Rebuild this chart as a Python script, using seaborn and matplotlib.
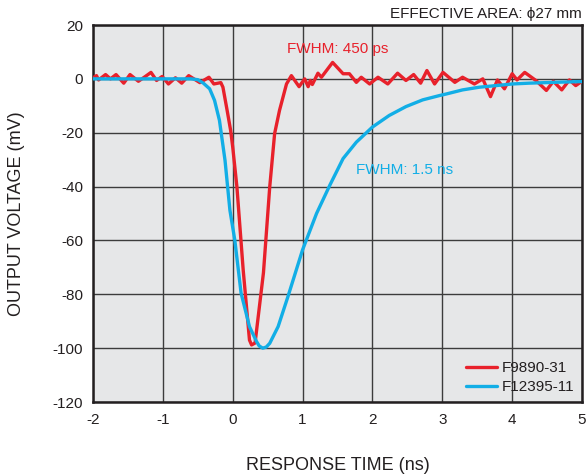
import matplotlib
matplotlib.use("Agg")
import matplotlib.pyplot as plt
import seaborn as sns
import pandas as pd

# ---- data ----
red_name = "F9890-31"
red_t = [-2.0, -1.95, -1.92, -1.82, -1.75, -1.67, -1.56, -1.47, -1.35, -1.25, -1.17, -1.09,
         -1.01, -0.92, -0.82, -0.73, -0.63, -0.47, -0.34, -0.27, -0.17, -0.14, -0.08, -0.03,
         0.0, 0.06, 0.15, 0.24, 0.27, 0.32, 0.44, 0.53, 0.6, 0.67, 0.77, 0.84, 0.95, 1.03,
         1.08, 1.11, 1.14, 1.22, 1.27, 1.43, 1.58, 1.67, 1.77, 1.84, 1.96, 2.08, 2.22, 2.36,
         2.48, 2.59, 2.69, 2.78, 2.89, 3.01, 3.18, 3.29, 3.46, 3.58, 3.69, 3.79, 3.89, 4.0,
         4.07, 4.18, 4.34, 4.49, 4.59, 4.71, 4.82, 4.91, 5.0]
red_v = [0.4, 1.2, -0.4, 1.6, 0.0, 1.6, -1.6, 1.6, -0.9, 0.9, 2.4, -0.6,
         0.9, -1.9, 0.4, -1.6, 1.2, -1.4, 0.6, -1.9, -1.4, -3.1, -11.7, -19.1,
         -25.3, -40.1, -71.0, -97.0, -98.8, -98.1, -72.0, -40.1, -20.3, -11.7, -1.9, 1.2, -2.9, 0.0,
         -2.9, -0.6, -2.1, 2.1, 0.6, 6.1, 1.9, 1.9, -1.3, 0.6, -1.9, 0.6, -1.9, 2.1,
         -0.6, 1.6, -1.6, 3.1, -1.9, 2.4, -1.3, 0.6, -1.9, 0.0, -6.6, -0.4, -3.7, 1.9,
         -0.4, 2.4, -0.6, -4.3, -0.9, -4.1, -0.4, -2.5, -0.9]

blue_name = "F12395-11"
blue_t = [-2.0, -0.6, -0.5, -0.42, -0.33, -0.26, -0.19, -0.11, -0.04, 0.03, 0.12, 0.24,
          0.34, 0.38, 0.43, 0.48, 0.53, 0.65, 0.79, 1.0, 1.2, 1.39, 1.58, 1.77, 2.0,
          2.24, 2.48, 2.72, 2.96, 3.06, 3.29, 3.53, 3.77, 4.0, 4.24, 4.48, 4.72, 5.0]
blue_v = [0.0, 0.0, -0.3, -1.6, -3.7, -8.0, -15.4, -30.3, -48.8, -59.9, -79.6, -92.0,
          -97.5, -99.2, -100.0, -99.6, -98.2, -92.0, -80.9, -63.5, -50.0, -39.5, -29.6, -23.5, -17.9,
          -13.6, -10.3, -7.8, -6.2, -5.6, -4.1, -3.1, -2.5, -1.9, -1.6, -1.4, -1.2, -1.0]

x_ticks = [-2, -1, 0, 1, 2, 3, 4, 5]
y_ticks = [20, 0, -20, -40, -60, -80, -100, -120]

RED = "#e8212b"
BLUE = "#12aee6"

df = pd.concat([
    pd.DataFrame({"t": red_t, "v": red_v, "series": red_name}),
    pd.DataFrame({"t": blue_t, "v": blue_v, "series": blue_name}),
], ignore_index=True)

sns.set_theme(style="white")
plt.rcParams["font.family"] = ["Liberation Sans", "DejaVu Sans"]

fig = plt.figure(figsize=(5.87, 4.75), dpi=100, facecolor="white")
ax = fig.add_axes([93 / 587, 1 - 402 / 475, 489 / 587, 377 / 475])
ax.set_facecolor("#e6e7e8")

sns.lineplot(data=df, x="t", y="v", hue="series", palette={red_name: RED, blue_name: BLUE},
             hue_order=[red_name, blue_name], estimator=None, sort=False,
             linewidth=2.4, ax=ax, zorder=3)

ax.set_xlim(-2, 5)
ax.set_ylim(-120, 20)
ax.set_xticks(x_ticks)
ax.set_yticks(y_ticks)
ax.set_xticklabels([str(v) for v in x_ticks])
ax.set_yticklabels([str(v) for v in y_ticks])
ax.grid(True, color="#3c3c3c", linewidth=1.0, zorder=1)
ax.set_axisbelow(True)
for s in ax.spines.values():
    s.set_color("#231f20")
    s.set_linewidth(1.8)
ax.tick_params(axis="both", labelsize=11, colors="#231f20", length=4, width=1,
               direction="inout")
ax.tick_params(axis="x", pad=6)
ax.tick_params(axis="y", pad=5)

ax.set_xlabel("RESPONSE TIME (ns)", fontsize=13, color="#231f20")
ax.set_ylabel("OUTPUT VOLTAGE (mV)", fontsize=13, color="#231f20")
ax.xaxis.set_label_coords(0.5, (402 - 465) / 377)
ax.xaxis.label.set_va("center")
ax.yaxis.set_label_coords((17 - 93) / 489, 0.5)
ax.yaxis.label.set_va("center")

ax.text(0.776, 11.2, "FWHM: 450 ps", color=RED, fontsize=11, ha="left", va="center", zorder=4)
ax.text(1.77, -33.7, "FWHM: 1.5 ns", color=BLUE, fontsize=11, ha="left", va="center", zorder=4)

fig.text(582 / 587, 1 - 14 / 475, "EFFECTIVE AREA: \u03d527 mm", fontsize=11,
         color="#231f20", ha="right", va="center")

leg = ax.legend(loc="lower right", bbox_to_anchor=(0.99, 0.012), frameon=False,
                fontsize=11, handlelength=2.0, handletextpad=0.3, labelspacing=0.35,
                borderaxespad=0.0, borderpad=0.2)
for t in leg.get_texts():
    t.set_color("#231f20")

fig.savefig("out.png", dpi=100, facecolor="white")
